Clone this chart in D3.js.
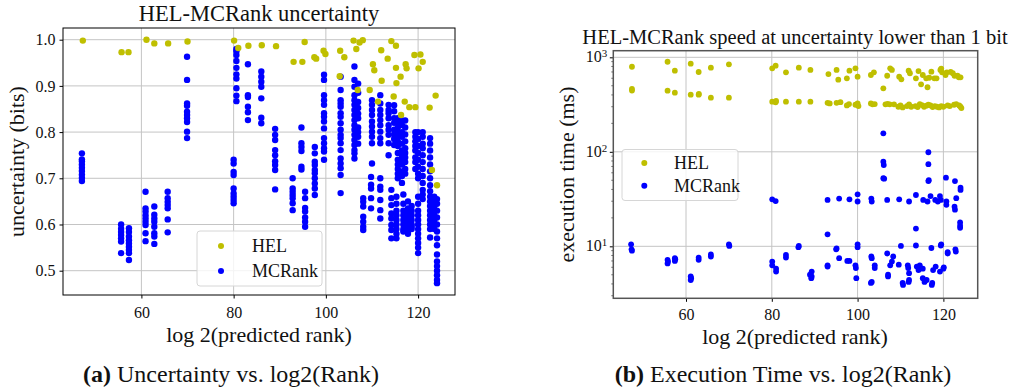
<!DOCTYPE html>
<html><head><meta charset="utf-8">
<script src="https://cdn.jsdelivr.net/npm/d3@7"></script>
<style>
body{margin:0;background:#fff}
svg{display:block}
svg text{font-family:"Liberation Serif","DejaVu Serif",serif;fill:#111}
</style>
</head><body>
<svg id="c" width="1011" height="392"></svg>
<script>
// ---------------- data ----------------
const xTicks = [60, 80, 100, 120];
const uncTicks = [0.5, 0.6, 0.7, 0.8, 0.9, 1.0];
const timeTicks = [10, 100, 1000];
const seriesNames = ["HEL", "MCRank"];

// Left chart: HEL uncertainty points
const helUncX = [47.3,55.7,57.2,61.1,62.8,65.8,70.0,80.1,81.0,83.2,86.1,89.2,93.0,94.9,95.4,97.5,97.9,99.5,99.9,103.0,103.1,104.0,106.0,106.6,107.3,108.0,106.9,109.5,110.2,110.5,112.0,112.1,113.4,114.2,114.7,115.2,115.2,115.3,116.2,116.3,117.1,117.3,117.5,118.1,119.2,120.5,119.4,120.1,121.0,122.5,123.8,123.0,124.1,111.3];
const helUncY = [0.998,0.973,0.973,1.000,0.992,0.992,0.996,0.998,0.982,0.987,0.988,0.986,0.952,0.952,0.995,0.962,0.959,0.976,0.969,0.921,0.976,0.962,0.998,0.980,0.994,0.999,0.891,0.891,0.947,0.934,0.977,0.911,0.959,0.997,0.877,0.987,0.939,0.906,0.920,0.837,0.866,0.947,0.938,0.854,0.967,0.968,0.854,0.938,0.952,0.853,0.879,0.718,0.685,0.866];

// Left chart: MCRank uncertainty, one x per column and the y values of that column
const mcUncColX = [47.1,55.6,57.3,60.9,62.8,65.7,69.9,80.0,80.6,83.1,86.0,89.0,92.8,94.7,95.5,97.6,99.6,103.2,106.2,107.0,108.1,110.0,109.8,111.8,111.8,113.6,114.2,114.8,115.6,116.5,117.2,115.3,116.8,117.8,118.6,119.4,120.0,121.0,122.6,123.5,124.1];
const mcUncColY = [
 [0.754,0.741,0.737,0.730,0.723,0.716,0.708,0.701,0.694],
 [0.600,0.591,0.584,0.577,0.570,0.563,0.538],
 [0.592,0.584,0.574,0.566,0.559,0.552,0.545,0.538,0.523],
 [0.671,0.635,0.628,0.620,0.613,0.606,0.599,0.581,0.564],
 [0.639,0.621,0.613,0.606,0.595,0.581,0.574,0.558],
 [0.671,0.657,0.649,0.642,0.635,0.611,0.583],
 [0.963,0.913,0.862,0.857,0.844,0.837,0.830,0.822,0.801,0.787],
 [0.740,0.732,0.714,0.707,0.678,0.667,0.660,0.653,0.646],
 [0.980,0.975,0.967,0.954,0.939,0.925,0.916,0.895,0.879,0.867],
 [0.947,0.880,0.876,0.855,0.843,0.826],
 [0.931,0.920,0.909,0.898,0.873,0.831,0.819],
 [0.807,0.794,0.783,0.761,0.750,0.737,0.729,0.718,0.676],
 [0.700,0.678,0.671,0.664,0.657,0.646,0.631],
 [0.810,0.776,0.768,0.759,0.725,0.719],
 [0.671,0.657,0.636,0.628,0.615,0.606,0.595],
 [0.768,0.754,0.736,0.729,0.718,0.711,0.700,0.689,0.678,0.664],
 [0.924,0.913,0.880,0.869,0.859,0.841,0.833,0.823,0.808,0.787,0.776,0.765,0.758,0.740],
 [0.920,0.891,0.869,0.862,0.855,0.841,0.833,0.819,0.805,0.794,0.787,0.776,0.761,0.743,0.732,0.722,0.707,0.668],
 [0.942,0.913,0.898,0.880,0.869,0.859,0.848,0.837,0.826,0.815,0.805,0.794,0.783,0.772,0.761,0.754,0.743],
 [0.905,0.885,0.865,0.852,0.840,0.830,0.810,0.800,0.790,0.775],
 [0.657,0.649,0.639,0.617,0.606,0.595,0.588],
 [0.869,0.859,0.848,0.837,0.823,0.812,0.801,0.790,0.776,0.732],
 [0.703,0.686,0.678,0.657,0.635],
 [0.880,0.862,0.848,0.837,0.826,0.815,0.801,0.787,0.776],
 [0.700,0.682,0.675,0.653,0.631,0.613],
 [0.859,0.848,0.841,0.830,0.815,0.805,0.794,0.776,0.750],
 [0.675,0.657,0.642,0.624,0.613,0.599,0.588,0.570],
 [0.858,0.845,0.830,0.820,0.805,0.795,0.785,0.772],
 [0.830,0.820,0.810,0.800,0.790,0.780,0.770,0.755,0.740,0.730,0.720,0.710,0.700],
 [0.825,0.815,0.800,0.790,0.775,0.760,0.750,0.740,0.730,0.715,0.705,0.690],
 [0.825,0.810,0.795,0.780,0.765,0.755,0.745,0.735,0.720,0.710],
 [0.660,0.645,0.630,0.620,0.610,0.600,0.590,0.580,0.570],
 [0.665,0.645,0.630,0.620,0.610,0.600,0.590,0.585],
 [0.650,0.635,0.625,0.615,0.605,0.595,0.585,0.580],
 [0.640,0.630,0.620,0.610,0.600,0.595,0.590],
 [0.800,0.790,0.780,0.770,0.760,0.745,0.735,0.720],
 [0.800,0.785,0.770,0.755,0.740,0.725,0.710,0.700,0.660,0.645,0.630,0.620,0.610,0.600,0.590,0.580,0.570,0.560,0.550,0.538],
 [0.800,0.790,0.775,0.765,0.750,0.735,0.720,0.705,0.690,0.675,0.665,0.655],
 [0.787,0.775,0.760,0.745,0.730,0.715,0.700,0.685,0.672,0.660,0.650,0.640,0.630,0.620,0.610,0.600,0.590,0.572],
 [0.660,0.650,0.640,0.630,0.620,0.610,0.600,0.590],
 [0.655,0.645,0.630,0.615,0.600,0.585,0.570,0.555,0.535,0.520,0.510,0.500,0.490,0.480,0.473]
];

// Right chart: HEL execution time (ms)
const helTimeX = [47.4,55.7,57.4,61.1,62.95,65.8,70.0,80.1,80.9,83.3,86.3,89.0,93.2,95.1,95.5,97.5,98.1,99.5,100.0,103.1,103.8,106.0,106.9,107.6,108.0,109.7,110.2,111.9,112.2,113.6,114.2,114.8,115.2,116.0,116.3,116.7,117.2,117.9,118.4,119.3,119.7,120.5,120.8,122.2,122.6,123.6,124.0,119.5,121.7,123.3,
 47.4,47.4,55.7,57.4,61.1,62.95,63.0,65.8,70.0,80.1,80.9,81.0,83.3,86.3,89.0,93.0,93.5,95.1,96.0,97.5,98.0,99.5,100.0,100.2,103.1,103.5,104.0,106.5,107.0,107.5,108.5,109.5,110.0,110.5,111.5,112.0,112.5,113.5,114.0,114.5,115.0,115.5,116.0,116.5,117.0,117.5,118.0,118.5,119.0,119.5,120.0,121.0,121.5,122.5,123.0,123.7,124.0,124.2];
const helTimeY = [795,898,722,856,699,776,843,765,815,693,776,735,665,735,580,600,722,765,624,650,694,470,638,765,735,624,585,722,678,600,716,518,650,600,482,608,704,600,600,735,694,650,694,678,638,614,614,760,700,640,
 462,445,444,423,402,402,410,374,374,339,334,345,339,339,339,330,325,330,335,310,320,315,325,305,325,318,320,318,322,318,318,300,310,295,305,318,300,305,298,320,312,300,308,315,310,298,305,300,295,305,300,310,305,315,320,310,300,290];

// Right chart: MCRank execution time (ms)
const mcTimeX = [47.2,47.3,47.4,55.7,55.7,55.8,57.4,57.4,57.5,61.1,61.1,61.2,62.95,62.95,65.8,65.8,70.0,70.1,80.1,80.9,80.1,80.1,81.0,81.0,83.3,83.3,86.3,86.2,88.9,89.3,89.3,89.2,93.0,93.0,93.0,93.0,95.1,95.0,95.7,95.7,97.6,98.1,98.1,99.5,99.6,99.7,100.0,100.0,100.0,100.0,103.2,103.3,103.2,103.3,103.1,103.3,104.0,104.0,106.0,106.0,106.1,106.0,106.2,106.9,106.9,107.1,107.1,107.6,108.0,108.3,109.6,109.7,110.1,110.5,110.6,111.7,111.8,112.0,112.0,112.0,113.6,113.6,113.6,113.8,114.2,114.5,115.2,115.2,115.6,116.1,115.3,116.3,117.0,116.5,116.5,116.5,116.6,117.2,117.3,117.4,118.1,118.7,119.2,119.4,117.6,118.2,119.2,120.0,120.1,119.4,119.5,120.6,120.7,120.7,121.0,121.0,122.7,122.6,122.7,123.0,122.8,122.9,124.0,124.0,123.9,123.9,123.9,111.9];
const mcTimeY = [10.5,9.3,9.0,7.2,6.6,6.9,7.5,7.0,7.3,4.8,4.4,4.6,7.6,7.2,8.2,7.8,10.5,10.1,31.4,30.1,6.9,6.3,5.8,5.4,8.1,7.6,10.1,9.8,5.0,5.4,4.8,4.6,31.0,13.4,6.3,6.1,9.5,9.3,32,7.5,7.0,7.0,31.4,6.3,5.9,4.6,35.5,29.8,10.5,9.8,32,29.8,7.8,7.5,4.1,4.2,6.3,5.9,157,78.5,72.5,52.5,52,31,8.4,5.0,4.8,6.3,6.9,7.8,6.4,31.4,10.1,4.1,3.9,6.3,5.9,29.8,5.2,4.4,34.9,15.4,10.2,6.1,5.6,6.3,5.8,4.6,4.2,4.4,31,29.8,34,99,74,49,50,9.6,3.9,4.1,31,29.8,34,31,5.6,6.1,5.4,5.8,6.0,10.2,10.5,53.3,29.8,27.5,8.4,8.7,49,26.3,24.4,32.3,9.3,8.8,41.7,39.5,17.9,15.7,16.5,4.2];

// ---------------- drawing ----------------
const HEL_COLOR = "#bfbf00", MC_COLOR = "#0000ff";
const FONT = "Liberation Serif";
const svg = d3.select("#c");
svg.append("rect").attr("width",1011).attr("height",392).attr("fill","#fff");

function legend(g, x0, y0, w, h, mx, tx, y1, y2) {
  g.append("rect").attr("x",x0).attr("y",y0).attr("width",w).attr("height",h)
    .attr("rx",3).attr("fill","#fff").attr("fill-opacity",0.8).attr("stroke","#d6d6d6");
  [[y1,HEL_COLOR,seriesNames[0]],[y2,MC_COLOR,seriesNames[1]]].forEach(([yy,c,t])=>{
    g.append("circle").attr("cx",mx).attr("cy",yy).attr("r",3).attr("fill",c);
    g.append("text").attr("x",tx).attr("y",yy+6).attr("font-size",18).text(t);
  });
}
function styleAxis(a){
  a.attr("font-family",FONT).style("font-family",FONT);
  a.select(".domain").remove();
  a.selectAll("text").attr("font-size",16).attr("fill","#222");
}

// ---- Left chart ----
(function(){
  const L=63,R=455,T=28,B=295;
  const x = d3.scaleLinear().domain([43.0,128.0]).range([L,R]);
  const y = d3.scaleLinear().domain([0.4474,1.0253]).range([B,T]);
  const g = svg.append("g");
  g.selectAll(".gx").data(xTicks).join("line").attr("x1",d=>x(d)).attr("x2",d=>x(d)).attr("y1",T).attr("y2",B)
    .attr("stroke","#c4c4c4").attr("stroke-width",1);
  g.selectAll(".gy").data(uncTicks).join("line").attr("y1",d=>y(d)).attr("y2",d=>y(d)).attr("x1",L).attr("x2",R)
    .attr("stroke","#c4c4c4").attr("stroke-width",1);
  const mc = [];
  mcUncColX.forEach((cx,i)=>mcUncColY[i].forEach(v=>mc.push([cx,v])));
  g.selectAll(".mc").data(mc).join("circle").attr("cx",d=>x(d[0])).attr("cy",d=>y(d[1])).attr("r",3.2).attr("fill",MC_COLOR);
  g.selectAll(".hel").data(helUncX.map((v,i)=>[v,helUncY[i]])).join("circle")
    .attr("cx",d=>x(d[0])).attr("cy",d=>y(d[1])).attr("r",3.2).attr("fill",HEL_COLOR);
  const ax = g.append("g").attr("transform",`translate(0,${B})`)
    .call(d3.axisBottom(x).tickValues(xTicks).tickSize(3.5).tickPadding(4).tickFormat(d3.format("d")));
  const ay = g.append("g").attr("transform",`translate(${L},0)`)
    .call(d3.axisLeft(y).tickValues(uncTicks).tickSize(3.5).tickPadding(4).tickFormat(d3.format(".1f")));
  styleAxis(ax); styleAxis(ay);
  ax.selectAll("text").attr("y",23).attr("dy",0);
  g.append("rect").attr("x",L).attr("y",T).attr("width",R-L).attr("height",B-T).attr("fill","none").attr("stroke","#000").attr("stroke-width",1);
  legend(g,197,231,125,55,221,252,246,271);
  g.append("text").attr("x",259).attr("y",21).attr("text-anchor","middle").attr("font-size",22.5).text("HEL-MCRank uncertainty");
  g.append("text").attr("transform",`translate(24,${(T+B)/2}) rotate(-90)`).attr("text-anchor","middle").attr("font-size",22).text("uncertainty (bits)");
  g.append("text").attr("x",259).attr("y",342).attr("text-anchor","middle").attr("font-size",22).text("log 2(predicted rank)");
  const cap = g.append("text").attr("x",231).attr("y",382).attr("text-anchor","middle").attr("font-size",24);
  cap.append("tspan").attr("font-weight","bold").text("(a)");
  cap.append("tspan").text(" Uncertainty vs. log2(Rank)");
})();

// ---- Right chart ----
(function(){
  const L=613.3,R=977.7,T=50.7,B=298.3;
  const x = d3.scaleLinear().domain([43.05,128.0]).range([L,R]);
  const y = d3.scaleLog().domain([Math.pow(10,0.45),Math.pow(10,3.07)]).range([B,T]);
  const g = svg.append("g");
  g.selectAll(".gx").data(xTicks).join("line").attr("x1",d=>x(d)).attr("x2",d=>x(d)).attr("y1",T).attr("y2",B)
    .attr("stroke","#c4c4c4").attr("stroke-width",1);
  g.selectAll(".gy").data(timeTicks).join("line").attr("y1",d=>y(d)).attr("y2",d=>y(d)).attr("x1",L).attr("x2",R)
    .attr("stroke","#c4c4c4").attr("stroke-width",1);
  g.selectAll(".hel").data(helTimeX.map((v,i)=>[v,helTimeY[i]])).join("circle")
    .attr("cx",d=>x(d[0])).attr("cy",d=>y(d[1])).attr("r",2.9).attr("fill",HEL_COLOR);
  g.selectAll(".mc").data(mcTimeX.map((v,i)=>[v,mcTimeY[i]])).join("circle")
    .attr("cx",d=>x(d[0])).attr("cy",d=>y(d[1])).attr("r",2.9).attr("fill",MC_COLOR);
  const ax = g.append("g").attr("transform",`translate(0,${B})`)
    .call(d3.axisBottom(x).tickValues(xTicks).tickSize(3.5).tickPadding(4).tickFormat(d3.format("d")));
  styleAxis(ax);
  ax.selectAll("text").attr("y",22).attr("dy",0);
  const minor = y.ticks().filter(v=>timeTicks.indexOf(v)<0 && v>=y.domain()[0] && v<=y.domain()[1]);
  g.selectAll(".mt").data(minor).join("line").attr("x1",L-2).attr("x2",L).attr("y1",d=>y(d)).attr("y2",d=>y(d)).attr("stroke","#333").attr("stroke-width",0.7);
  const ay = g.append("g").attr("transform",`translate(${L},0)`)
    .call(d3.axisLeft(y).tickValues(timeTicks).tickSize(3.5).tickPadding(4).tickFormat(""));
  ay.select(".domain").remove();
  timeTicks.forEach(v=>{
    const t = g.append("text").attr("x",L-6).attr("y",y(v)+5).attr("text-anchor","end").attr("font-size",16).attr("fill","#222");
    t.append("tspan").text("10");
    t.append("tspan").attr("dy",-5).attr("font-size",11).text(String(Math.round(Math.log10(v))));
  });
  g.append("rect").attr("x",L).attr("y",T).attr("width",R-L).attr("height",B-T).attr("fill","none").attr("stroke","#555").attr("stroke-width",1.5);
  legend(g,622,149.5,116,51,644.3,674,163,185.7);
  g.append("text").attr("x",795).attr("y",44).attr("text-anchor","middle").attr("font-size",20.5).text("HEL-MCRank speed at uncertainty lower than 1 bit");
  g.append("text").attr("transform",`translate(574,${(T+B)/2}) rotate(-90)`).attr("text-anchor","middle").attr("font-size",22).text("execution time (ms)");
  g.append("text").attr("x",795).attr("y",344).attr("text-anchor","middle").attr("font-size",22).text("log 2(predicted rank)");
  const cap = g.append("text").attr("x",783).attr("y",382).attr("text-anchor","middle").attr("font-size",24);
  cap.append("tspan").attr("font-weight","bold").text("(b)");
  cap.append("tspan").text(" Execution Time vs. log2(Rank)");
})();
</script>
</body></html>
